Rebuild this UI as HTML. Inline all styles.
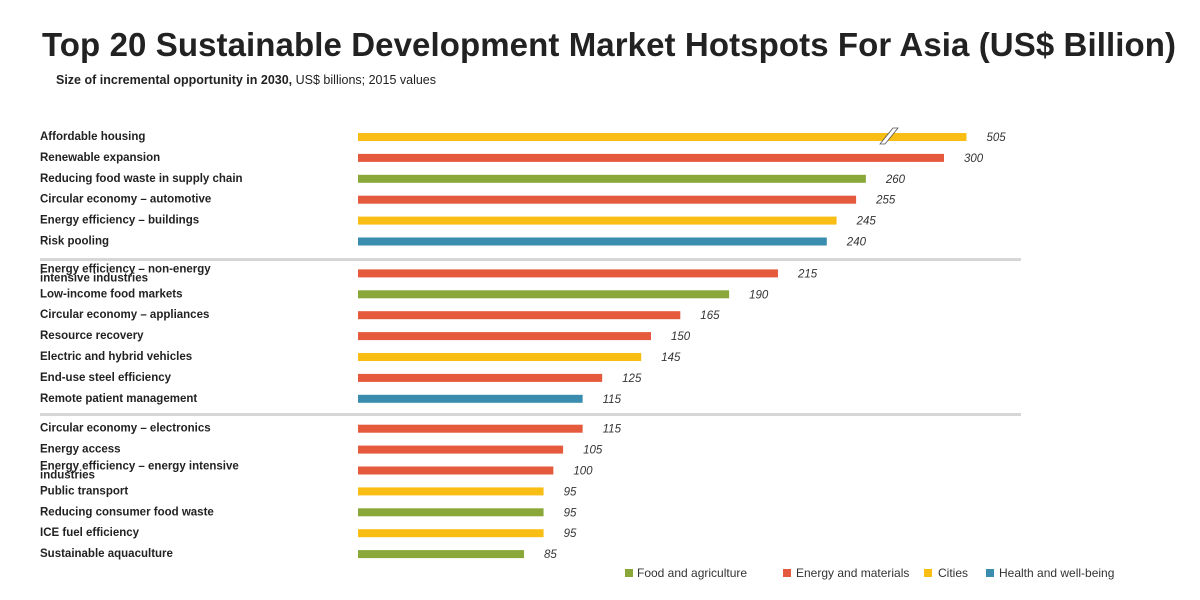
<!DOCTYPE html>
<html><head><meta charset="utf-8"><style>
body{margin:0;background:#fff;font-family:"Liberation Sans",sans-serif;}
#c{position:relative;width:1200px;height:600px;overflow:hidden;}
</style></head><body>
<div id="c">
<svg width="1200" height="600" id="svg">
<text x="42" y="56" font-size="33" font-weight="bold" fill="#222" textLength="1134">Top 20 Sustainable Development Market Hotspots For Asia (US$ Billion)</text>
<text x="56" y="84" font-size="12.5" fill="#222"><tspan font-weight="bold">Size of incremental opportunity in 2030,</tspan> US$ billions; 2015 values</text>
<rect x="40" y="258" width="981" height="3" fill="#d6d6d6"/>
<rect x="40" y="413" width="981" height="3" fill="#d6d6d6"/>
<g id="bars"></g>
<g font-size="12" fill="#333">
<rect x="625" y="569" width="8" height="8" fill="#8AA83A"/><text x="637" y="577">Food and agriculture</text>
<rect x="783" y="569" width="8" height="8" fill="#E5593D"/><text x="796" y="577">Energy and materials</text>
<rect x="924" y="569" width="8" height="8" fill="#F9BE14"/><text x="938" y="577">Cities</text>
<rect x="986" y="569" width="8" height="8" fill="#3A8DAE"/><text x="999" y="577">Health and well-being</text>
</g>
</svg></div>
<script>
const categories=["Affordable housing","Renewable expansion","Reducing food waste in supply chain","Circular economy – automotive","Energy efficiency – buildings","Risk pooling","Energy efficiency – non-energy|intensive industries","Low-income food markets","Circular economy – appliances","Resource recovery","Electric and hybrid vehicles","End-use steel efficiency","Remote patient management","Circular economy – electronics","Energy access","Energy efficiency – energy intensive|industries","Public transport","Reducing consumer food waste","ICE fuel efficiency","Sustainable aquaculture"];
const values=[505,300,260,255,245,240,215,190,165,150,145,125,115,115,105,100,95,95,95,85];
const groups=["cities","energy","food","energy","cities","health","energy","food","energy","energy","cities","energy","health","energy","energy","energy","cities","food","cities","food"];
const colors={food:"#8AA83A",energy:"#E5593D",cities:"#F9BE14",health:"#3A8DAE"};
const x0=358,scale=586/300,cap=311.5;
function xPos(v){return x0+Math.min(v,cap)*scale;}
function yPos(i){let y=137+i*20.9;if(i>=6)y+=11;if(i>=13)y+=9;return y;}
const g=document.getElementById('bars');const ns="http://www.w3.org/2000/svg";
categories.forEach((c,i)=>{
 const y=yPos(i),v=values[i];
 const r=document.createElementNS(ns,'rect');
 r.setAttribute('x',x0);r.setAttribute('y',y-4);r.setAttribute('width',xPos(v)-x0);r.setAttribute('height',8);r.setAttribute('fill',colors[groups[i]]);
 
 
 g.appendChild(r);
 if(v>cap){const p=document.createElementNS(ns,'path');
  p.setAttribute('d',`M${880} ${y+7} L${893} ${y-9} L${898} ${y-9} L${885} ${y+7} Z`);p.setAttribute('fill','#fff');p.setAttribute('stroke','#555');p.setAttribute('stroke-width','0.8');
  
  
  g.appendChild(p);}
 const t=document.createElementNS(ns,'text');
 t.setAttribute('x',xPos(v)+20);t.setAttribute('y',y+4);t.setAttribute('font-size','11.5');t.setAttribute('font-style','italic');t.setAttribute('fill','#333');t.textContent=v;
 
 
 g.appendChild(t);
 const parts=c.split('|');
 const l=document.createElementNS(ns,'text');
 l.setAttribute('x',40);l.setAttribute('font-size','11.5');l.setAttribute('font-weight','bold');l.setAttribute('fill','#222');
 if(parts.length==1){l.setAttribute('y',y+3);l.textContent=c;}
 else{l.setAttribute('y',y-1);parts.forEach((s,k)=>{const ts=document.createElementNS(ns,'tspan');ts.setAttribute('x',40);if(k>0)ts.setAttribute('dy','9');ts.textContent=s;l.appendChild(ts);});}
 
 
 g.appendChild(l);
});
</script>
</body></html>
